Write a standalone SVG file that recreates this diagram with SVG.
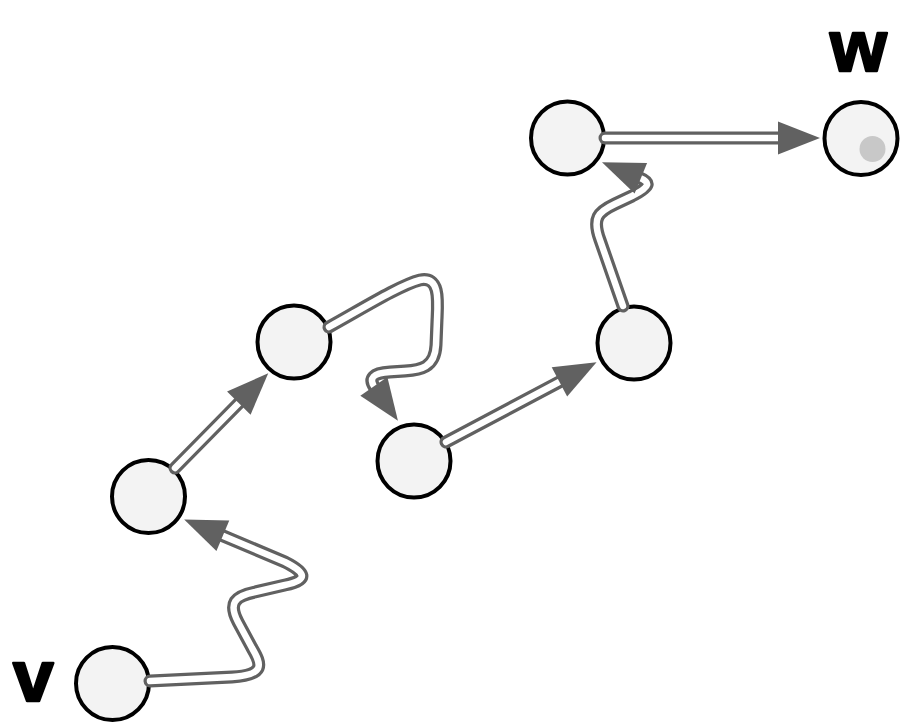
<svg xmlns="http://www.w3.org/2000/svg" width="907" height="725" viewBox="0 0 907 725">
  <style>
    .node { fill: #f3f3f3; stroke: #000; stroke-width: 4; }
    .outer { fill: none; stroke: #616161; stroke-width: 13; stroke-linecap: round; stroke-linejoin: round; }
    .inner { fill: none; stroke: #fff; stroke-width: 6.5; stroke-linecap: round; stroke-linejoin: round; marker-end: url(#arrow); }
    .label { font-family: "Liberation Sans", Arial, sans-serif; font-weight: bold; font-size: 73px; fill: #000; stroke: #000; stroke-width: 2.5; stroke-linejoin: round; }
  </style>
  <defs>
    <marker id="arrow" markerUnits="userSpaceOnUse" markerWidth="42" markerHeight="33" refX="2" refY="16.5" orient="auto" overflow="visible">
      <path d="M0,0 L42,16.5 L0,33 Z" fill="#616161"/>
    </marker>
  </defs>
  <rect width="907" height="725" fill="#fff"/>

  <g id="nodes">
    <g id="node-v"><circle class="node" cx="112.5" cy="683.5" r="36.5"/></g>
    <g id="node-2"><circle class="node" cx="148.5" cy="496.5" r="36.5"/></g>
    <g id="node-3"><circle class="node" cx="294" cy="342" r="36.5"/></g>
    <g id="node-4"><circle class="node" cx="414" cy="461" r="36.5"/></g>
    <g id="node-5"><circle class="node" cx="634" cy="343" r="36.5"/></g>
    <g id="node-6"><circle class="node" cx="567.5" cy="138" r="36.5"/></g>
    <g id="node-w">
      <circle class="node" cx="861" cy="138.5" r="36.5"/>
      <circle cx="872.5" cy="149" r="13" fill="#c8c8c8"/>
    </g>
  </g>

  <g id="connectors">
    <g id="e1">
      <path class="outer" d="M150,681 L232,677 C265,675 262,665 252,648 L238,622 C228,603 235,596 255,592 L285,585 C310,580 305,572 285,562 L221,535"/>
      <path class="inner" d="M150,681 L232,677 C265,675 262,665 252,648 L238,622 C228,603 235,596 255,592 L285,585 C310,580 305,572 285,562 L221,535"/>
    </g>
    <g id="e2">
      <path class="outer" d="M175,468 L240.2,401.7"/>
      <path class="inner" d="M175,468 L240.2,401.7"/>
    </g>
    <g id="e3">
      <path class="outer" d="M329,327 C360,310 400,285 420,280 C440,276 438,300 437,320 L436,345 C435,368 420,370 405,371 L390,372 C373,373 368,378 375,388"/>
      <path class="inner" d="M329,327 C360,310 400,285 420,280 C440,276 438,300 437,320 L436,345 C435,368 420,370 405,371 L390,372 C373,373 368,378 375,388"/>
    </g>
    <g id="e4">
      <path class="outer" d="M446,442 L561.2,380.9"/>
      <path class="inner" d="M446,442 L561.2,380.9"/>
    </g>
    <g id="e5">
      <path class="outer" d="M623,306 L600,240 C592,218 598,212 615,204 L632,196 C652,186 650,182 639,177.5"/>
      <path class="inner" d="M623,306 L600,240 C592,218 598,212 615,204 L632,196 C652,186 650,182 639,177.5"/>
    </g>
    <g id="e6">
      <path class="outer" d="M605,138 L780,138"/>
      <path class="inner" d="M605,138 L780,138"/>
    </g>
  </g>

  <g id="labels">
    <text class="label" x="13" y="701">v</text>
    <text class="label" x="830" y="71">w</text>
  </g>
</svg>
